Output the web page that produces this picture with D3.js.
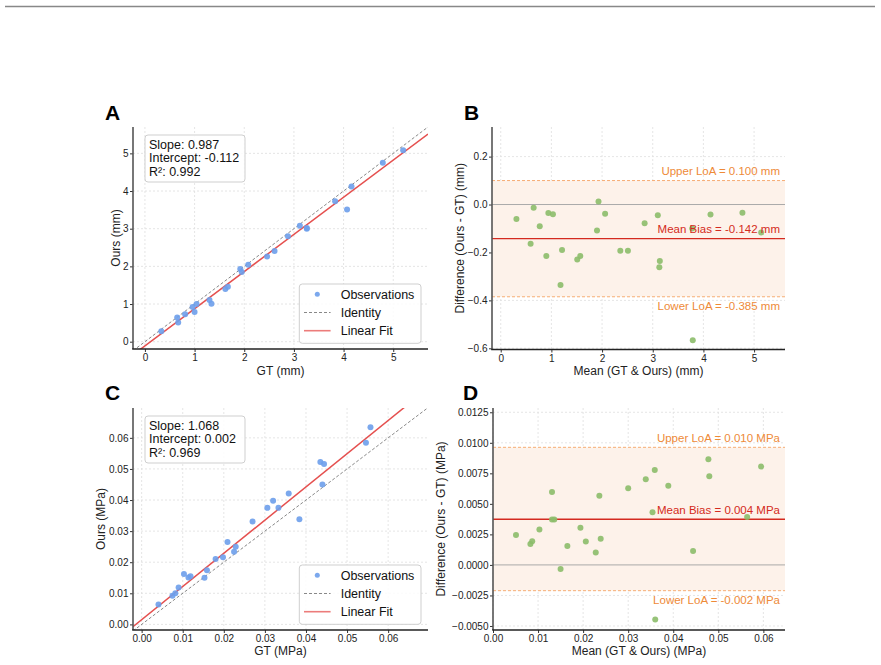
<!DOCTYPE html>
<html>
<head>
<meta charset="utf-8">
<script src="https://cdn.jsdelivr.net/npm/d3@7"></script>
<style>
  body { margin: 0; background: #fff; }
  svg { display: block; font-family: "Liberation Sans", Arial, sans-serif; }
</style>
</head>
<body>
<svg id="fig" width="881" height="665"></svg>
<script>
// ---- data ----
// A: thickness (mm)
const gtMm   = [0.33, 0.65, 0.67, 0.81, 0.96, 1.04, 1.00, 1.30, 1.34, 1.62, 1.67, 1.92, 1.95,
                2.08, 2.46, 2.61, 2.88, 3.12, 3.26, 3.26, 3.83, 4.07, 4.16, 4.79, 5.20];
const oursMm = [0.28, 0.64, 0.51, 0.73, 0.92, 1.00, 0.79, 1.11, 1.01, 1.40, 1.46, 1.93, 1.85,
                2.04, 2.26, 2.41, 2.80, 3.08, 3.02, 3.00, 3.73, 3.51, 4.12, 4.75, 5.08];
// B: Bland-Altman (mm)
const meanMm = [0.31, 0.65, 0.59, 0.77, 0.94, 1.03, 0.90, 1.21, 1.18, 1.51, 1.57, 1.93, 1.90,
                2.06, 2.36, 2.51, 2.84, 3.10, 3.14, 3.13, 3.78, 3.79, 4.14, 4.77, 5.14];
const diffMm = [-0.060, -0.013, -0.164, -0.091, -0.035, -0.041, -0.215, -0.190, -0.336, -0.229,
                -0.215, 0.013, -0.108, -0.039, -0.193, -0.193, -0.078, -0.045, -0.236, -0.262,
                -0.100, -0.566, -0.042, -0.034, -0.117];
const loaMm = { upper: 0.100, mean: -0.142, lower: -0.385 };

// C: modulus (MPa)
const gtMpa   = [0.0041, 0.0075, 0.0082, 0.0090, 0.0103, 0.0114, 0.0119, 0.0153, 0.0159, 0.0180,
                 0.0198, 0.0209, 0.0225, 0.0229, 0.0270, 0.0306, 0.0320, 0.0333, 0.0358, 0.0384,
                 0.0435, 0.0444, 0.0440, 0.0546, 0.0557];
const oursMpa = [0.0064, 0.0092, 0.0100, 0.0119, 0.0162, 0.0151, 0.0155, 0.0150, 0.0174, 0.0210,
                 0.0216, 0.0265, 0.0234, 0.0250, 0.0331, 0.0375, 0.0398, 0.0375, 0.0421, 0.0338,
                 0.0522, 0.0516, 0.0450, 0.0584, 0.0634];
// D: Bland-Altman (MPa)
const meanMpa = [0.0051, 0.0083, 0.0087, 0.0103, 0.0131, 0.0131, 0.0136, 0.0150, 0.0165, 0.0194,
                 0.0206, 0.0228, 0.0236, 0.0239, 0.0300, 0.0339, 0.0354, 0.0359, 0.0360, 0.0389,
                 0.0444, 0.0478, 0.0480, 0.0564, 0.0595];
const diffMpa = [0.00245, 0.00172, 0.00193, 0.00289, 0.00597, 0.00371, 0.00371, -0.00033, 0.00155,
                 0.00305, 0.00191, 0.00101, 0.00567, 0.00215, 0.00628, 0.00701, 0.00431, 0.00778,
                 -0.00448, 0.00649, 0.00114, 0.00865, 0.00726, 0.00393, 0.00805];
const loaMpa = { upper: 0.00963, mean: 0.00374, lower: -0.00211 };

const fitMm  = { slope: 0.987, intercept: -0.112, r2: 0.992 };
const fitMpa = { slope: 1.068, intercept: 0.0015, r2: 0.969 };
const statsMm  = ['Slope: 0.987', 'Intercept: -0.112', 'R²: 0.992'];
const statsMpa = ['Slope: 1.068', 'Intercept: 0.002', 'R²: 0.969'];
const loaTextMm  = ['Upper LoA = 0.100 mm', 'Mean Bias = -0.142 mm', 'Lower LoA = -0.385 mm'];
const loaTextMpa = ['Upper LoA = 0.010 MPa', 'Mean Bias = 0.004 MPa', 'Lower LoA = -0.002 MPa'];
const legendItems = ['Observations', 'Identity', 'Linear Fit'];

const ticksA  = [0, 1, 2, 3, 4, 5];
const ticksBy = [-0.6, -0.4, -0.2, 0.0, 0.2];
const ticksC  = [0, 0.01, 0.02, 0.03, 0.04, 0.05, 0.06];
const ticksDy = [-0.005, -0.0025, 0, 0.0025, 0.005, 0.0075, 0.01, 0.0125];

// ---- styling ----
const blue = '#6d9eeb', green = '#8cbd6a', fitRed = '#e5504f', biasRed = '#d42a20',
      orange = '#ee8a38', bandFill = '#fdf2ea';

const svg = d3.select('#fig');

svg.append('line')
  .attr('x1', 5).attr('x2', 875).attr('y1', 6.5).attr('y2', 6.5)
  .attr('stroke', '#888').attr('stroke-width', 1.3);

function panel(o) {
  const f = o.frame;
  const x = d3.scaleLinear().domain(o.xDom).range([f.l, f.r]);
  const y = d3.scaleLinear().domain(o.yDom).range([f.b, f.t]);
  const g = svg.append('g');

  const clipId = 'clip-' + o.letter;
  g.append('clipPath').attr('id', clipId)
    .append('rect').attr('x', f.l).attr('y', f.t).attr('width', f.r - f.l).attr('height', f.b - f.t);

  // grid
  g.append('g').selectAll('line').data(o.xTicks).join('line')
    .attr('x1', d => x(d)).attr('x2', d => x(d)).attr('y1', f.t).attr('y2', f.b)
    .attr('stroke', '#dedede').attr('stroke-width', 0.8).attr('stroke-dasharray', '2,2');
  g.append('g').selectAll('line').data(o.yTicks).join('line')
    .attr('x1', f.l).attr('x2', f.r).attr('y1', d => y(d)).attr('y2', d => y(d))
    .attr('stroke', '#dedede').attr('stroke-width', 0.8).attr('stroke-dasharray', '2,2');

  const plot = g.append('g').attr('clip-path', `url(#${clipId})`);
  o.draw(plot, x, y, f, g);

  // axes
  const xAxis = g.append('g').attr('transform', `translate(0,${f.b})`)
    .call(d3.axisBottom(x).tickValues(o.xTicks).tickFormat(o.xFmt).tickSize(3).tickPadding(2));
  const yAxis = g.append('g').attr('transform', `translate(${f.l},0)`)
    .call(d3.axisLeft(y).tickValues(o.yTicks).tickFormat(o.yFmt).tickSize(3).tickPadding(1.5));
  [xAxis, yAxis].forEach(a => {
    a.select('.domain').remove();
    a.selectAll('.tick line').attr('stroke', '#333');
    a.selectAll('.tick text').attr('fill', '#222').style('font-size', '10px')
      .style('font-family', '"Liberation Sans", Arial, sans-serif');
  });
  g.append('line').attr('x1', f.l).attr('x2', f.l).attr('y1', f.t).attr('y2', f.b)
    .attr('stroke', '#555').attr('stroke-width', 1.6);
  g.append('line').attr('x1', f.l - 0.8).attr('x2', f.r).attr('y1', f.b).attr('y2', f.b)
    .attr('stroke', '#222').attr('stroke-width', 1.3);

  // titles
  g.append('text').attr('x', (f.l + f.r) / 2).attr('y', o.xTitleY)
    .attr('text-anchor', 'middle').attr('fill', '#222').style('font-size', '12px').text(o.xTitle);
  g.append('text').attr('transform', `translate(${o.yTitleX},${(f.t + f.b) / 2}) rotate(-90)`)
    .attr('text-anchor', 'middle').attr('fill', '#222').style('font-size', '12px').text(o.yTitle);
  g.append('text').attr('x', o.labelPos[0]).attr('y', o.labelPos[1])
    .attr('fill', '#000').style('font-size', '21px').style('font-weight', 'bold').text(o.letter);
}

function scatterDraw(gt, ours, fit, stats) {
  return (plot, x, y, f, g) => {
    const xd = x.domain();
    plot.append('line')
      .attr('x1', x(xd[0])).attr('y1', y(xd[0])).attr('x2', x(xd[1])).attr('y2', y(xd[1]))
      .attr('stroke', '#888').attr('stroke-width', 1).attr('stroke-dasharray', '3,2');
    plot.append('line')
      .attr('x1', x(xd[0])).attr('y1', y(fit.slope * xd[0] + fit.intercept))
      .attr('x2', x(xd[1])).attr('y2', y(fit.slope * xd[1] + fit.intercept))
      .attr('stroke', fitRed).attr('stroke-width', 1.5);
    plot.append('g').selectAll('circle').data(gt).join('circle')
      .attr('cx', d => x(d)).attr('cy', (d, i) => y(ours[i])).attr('r', 3)
      .attr('fill', blue).attr('opacity', 0.9);

    // stats box
    const bx = f.l + 12, by = f.t + 8;
    g.append('rect').attr('x', bx).attr('y', by).attr('width', 100).attr('height', 47)
      .attr('rx', 3).attr('fill', '#fff').attr('fill-opacity', 0.85)
      .attr('stroke', '#cfcfcf').attr('stroke-width', 1);
    g.append('g').selectAll('text').data(stats).join('text')
      .attr('x', bx + 4).attr('y', (d, i) => by + 13.5 + i * 13.8)
      .attr('fill', '#111').style('font-size', '12.5px').text(d => d);

    // legend
    const lx = f.r - 128.7, ly = f.b - 65;
    g.append('rect').attr('x', lx).attr('y', ly).attr('width', 121.7).attr('height', 59.3)
      .attr('rx', 3).attr('fill', '#fff').attr('fill-opacity', 0.85)
      .attr('stroke', '#cfcfcf').attr('stroke-width', 1);
    const rowY = i => ly + 10.3 + i * 18.2;
    g.append('circle').attr('cx', lx + 18).attr('cy', rowY(0)).attr('r', 2.5)
      .attr('fill', blue).attr('opacity', 0.9);
    g.append('line').attr('x1', lx + 4.7).attr('x2', lx + 31.3).attr('y1', rowY(1)).attr('y2', rowY(1))
      .attr('stroke', '#888').attr('stroke-width', 1).attr('stroke-dasharray', '3,2');
    g.append('line').attr('x1', lx + 4.7).attr('x2', lx + 31.3).attr('y1', rowY(2)).attr('y2', rowY(2))
      .attr('stroke', fitRed).attr('stroke-opacity', 0.75).attr('stroke-width', 1.6);
    g.append('g').selectAll('text').data(legendItems).join('text')
      .attr('x', lx + 41.4).attr('y', (d, i) => rowY(i) + 4.4)
      .attr('fill', '#111').style('font-size', '12.5px').text(d => d);
  };
}

function blandDraw(mean, diff, loa, labels) {
  return (plot, x, y, f, g) => {
    plot.append('rect').attr('x', f.l).attr('width', f.r - f.l)
      .attr('y', y(loa.upper)).attr('height', y(loa.lower) - y(loa.upper)).attr('fill', bandFill);
    plot.append('line').attr('x1', f.l).attr('x2', f.r).attr('y1', y(0)).attr('y2', y(0))
      .attr('stroke', '#aaa').attr('stroke-width', 1);
    [loa.upper, loa.lower].forEach(v => {
      plot.append('line').attr('x1', f.l).attr('x2', f.r).attr('y1', y(v)).attr('y2', y(v))
        .attr('stroke', '#f6ad74').attr('stroke-width', 1).attr('stroke-dasharray', '3,2');
    });
    plot.append('line').attr('x1', f.l).attr('x2', f.r).attr('y1', y(loa.mean)).attr('y2', y(loa.mean))
      .attr('stroke', biasRed).attr('stroke-width', 1.3);
    plot.append('g').selectAll('circle').data(mean).join('circle')
      .attr('cx', d => x(d)).attr('cy', (d, i) => y(diff[i])).attr('r', 3)
      .attr('fill', green).attr('opacity', 0.9);
    const tx = f.r - 5;
    const txt = (t, yy, c) => g.append('text').attr('x', tx).attr('y', yy).attr('text-anchor', 'end')
      .attr('fill', c).style('font-size', '11.5px').text(t);
    txt(labels[0], y(loa.upper) - 5.5, orange);
    txt(labels[1], y(loa.mean) - 5.5, biasRed);
    txt(labels[2], y(loa.lower) + 13, orange);
  };
}

panel({
  letter: 'A', frame: { l: 133, r: 428, t: 127, b: 349 }, labelPos: [105, 119.5],
  xDom: [-0.24, 5.70], yDom: [-0.194, 5.70], xTicks: ticksA, yTicks: ticksA,
  xFmt: d3.format('d'), yFmt: d3.format('d'),
  xTitle: 'GT (mm)', yTitle: 'Ours (mm)', xTitleY: 375, yTitleX: 119.5,
  draw: scatterDraw(gtMm, oursMm, fitMm, statsMm)
});

panel({
  letter: 'B', frame: { l: 492, r: 785, t: 127, b: 349.5 }, labelPos: [464, 119.5],
  xDom: [-0.172, 5.61], yDom: [-0.605, 0.3235], xTicks: ticksA, yTicks: ticksBy,
  xFmt: d3.format('d'), yFmt: d3.format('.1f'),
  xTitle: 'Mean (GT & Ours) (mm)', yTitle: 'Difference (Ours - GT) (mm)', xTitleY: 375, yTitleX: 464,
  draw: blandDraw(meanMm, diffMm, loaMm, loaTextMm)
});

panel({
  letter: 'C', frame: { l: 133, r: 428, t: 408, b: 630 }, labelPos: [105, 399.5],
  xDom: [-0.0021, 0.0697], yDom: [-0.0018, 0.0696], xTicks: ticksC, yTicks: ticksC,
  xFmt: d3.format('.2f'), yFmt: d3.format('.2f'),
  xTitle: 'GT (MPa)', yTitle: 'Ours (MPa)', xTitleY: 654.5, yTitleX: 105,
  draw: scatterDraw(gtMpa, oursMpa, fitMpa, statsMpa)
});

panel({
  letter: 'D', frame: { l: 493, r: 785, t: 408, b: 630 }, labelPos: [463, 399.5],
  xDom: [0, 0.0648], yDom: [-0.00533, 0.01285], xTicks: ticksC, yTicks: ticksDy,
  xFmt: d3.format('.2f'), yFmt: d3.format('.4f'),
  xTitle: 'Mean (GT & Ours) (MPa)', yTitle: 'Difference (Ours - GT) (MPa)', xTitleY: 654.5, yTitleX: 445,
  draw: blandDraw(meanMpa, diffMpa, loaMpa, loaTextMpa)
});
</script>
</body>
</html>
